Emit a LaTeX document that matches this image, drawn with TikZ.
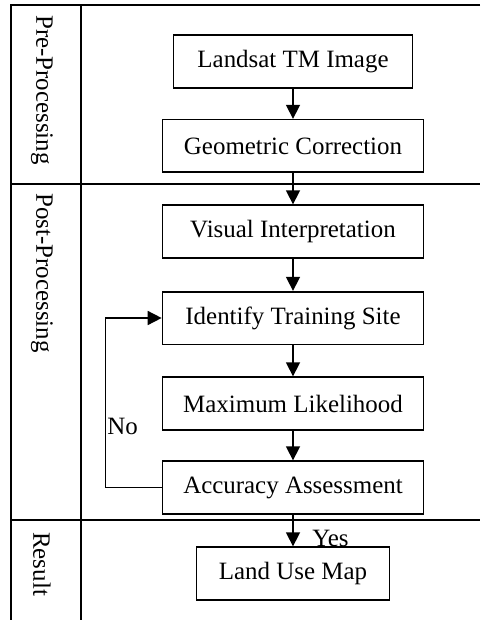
\documentclass[tikz,border=0pt]{standalone}
\usepackage{fontspec}
\setmainfont{Liberation Serif}
\usetikzlibrary{arrows.meta}

\begin{document}
\begin{tikzpicture}[x=0.75pt,y=-0.75pt]
		% Styles
		\tikzstyle{cadre}=[-,line width=1.25pt]
		\tikzstyle{fleche}=[-{Triangle[length=10.5pt,width=10.5pt]},line width=1.2pt]
		\tikzstyle{etape}=[draw,line width=1.25pt,minimum height=39.5pt,minimum width=195.75pt,inner sep=0pt,font=\fontsize{18.7}{22}\selectfont]
		\tikzstyle{phase}=[rotate=-90,anchor=west,inner sep=0pt,font=\fontsize{18.7}{22}\selectfont]
		\tikzstyle{reponse}=[anchor=west,inner sep=0pt,font=\fontsize{18.7}{22}\selectfont]
		% Dimensions
		\def\Gauche{11}
		\def\Separation{81}
		\def\Droite{480}
		\def\Haut{5}
		\def\Bas{620}
		\def\LigneA{184}
		\def\LigneB{520}
		\def\Axe{293}
		\def\Colonne{42}
		
		\useasboundingbox (0,0) rectangle (480,620);
		% Cadre
		\draw[cadre] (\Droite,\Haut) -- (\Gauche,\Haut) -- (\Gauche,\Bas);
		\draw[cadre] (\Separation,\Haut) -- (\Separation,\Bas);
		\draw[cadre] (\Gauche,\LigneA) -- (\Droite,\LigneA);
		\draw[cadre] (\Gauche,\LigneB) -- (\Droite,\LigneB);
		% Phases
		\node[phase] (Pre) at (\Colonne,{\Haut+10}) {Pre-Processing};
		\node[phase] (Post) at (\Colonne,{\LigneA+9}) {Post-Processing};
		\node[phase] (Res) at (\Colonne,{\LigneB+12}) {Result};
		% Noeuds
		\node[etape,minimum width=179.25pt] (Landsat) at (\Axe,61.5) {Landsat TM Image};
		\node[etape] (Geo) at (\Axe,146) {Geometric Correction};
		\node[etape] (Visu) at (\Axe,231.5) {Visual Interpretation};
		\node[etape] (Site) at (\Axe,318) {Identify Training Site};
		\node[etape] (MaxV) at (\Axe,403.5) {Maximum Likelihood};
		\node[etape] (Precision) at (\Axe,487.5) {Accuracy Assessment};
		\node[etape,minimum width=144.75pt] (Carte) at (\Axe,573.5) {Land Use Map};
		\node[reponse] (Non) at (107,426) {No};
		\node[reponse] (Oui) at (312,538.5) {Yes};
		% Arcs
		\draw[fleche] (Landsat) -- (Geo);
		\draw[fleche] (Geo) -- (Visu);
		\draw[fleche] (Visu) -- (Site);
		\draw[fleche] (Site) -- (MaxV);
		\draw[fleche] (MaxV) -- (Precision);
		\draw[fleche] (Precision) -- (Carte);
		\draw[fleche] (Precision.west) -- ++(-56,0) |- (Site.west);
		
\end{tikzpicture}
\end{document}
